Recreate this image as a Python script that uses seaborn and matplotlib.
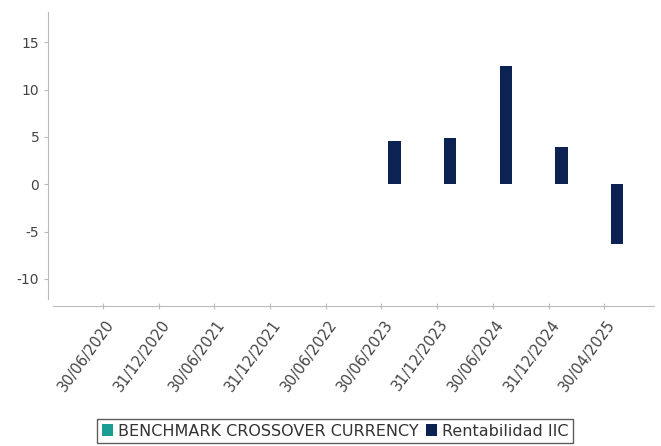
import numpy as np
import pandas as pd
import matplotlib
matplotlib.use("Agg")
import matplotlib.pyplot as plt
import matplotlib.transforms as mtransforms
from matplotlib.patches import Patch
import seaborn as sns

# Chart data
dates = ["30/06/2020", "31/12/2020", "30/06/2021", "31/12/2021", "30/06/2022",
         "30/06/2023", "31/12/2023", "30/06/2024", "31/12/2024", "30/04/2025"]
benchmark = [np.nan] * 10
rentabilidad = [np.nan, np.nan, np.nan, np.nan, np.nan, 4.55, 4.85, 12.55, 3.95, -6.35]
series_names = ["BENCHMARK CROSSOVER CURRENCY", "Rentabilidad IIC"]
colors = ["#1a9e93", "#0b2252"]
yticks = [-10, -5, 0, 5, 10, 15]

df = pd.DataFrame({
    "fecha": dates * 2,
    "serie": [series_names[0]] * 10 + [series_names[1]] * 10,
    "valor": benchmark + rentabilidad,
})

sns.set_style("white")
plt.rcParams["font.family"] = ["DejaVu Sans"]

fig = plt.figure(figsize=(6.61, 4.46), dpi=100)
ax = fig.add_axes([0.073, 0.33, 0.917, 0.643])

sns.barplot(data=df, x="fecha", y="valor", hue="serie", order=dates,
            hue_order=series_names, palette=colors, width=0.94, gap=0.53,
            errorbar=None, legend=False, ax=ax, linewidth=0, saturation=1)

ax.set_ylim(-12.1, 18.2)
ax.set_xlim(-0.98, 9.9)
ax.set_xlabel("")
ax.set_ylabel("")

for s in ["top", "right"]:
    ax.spines[s].set_visible(False)
ax.spines["left"].set_color("#bbbbbb")
ax.spines["bottom"].set_color("#bbbbbb")
ax.spines["bottom"].set_position(("outward", 5))
ax.spines["bottom"].set_bounds(-0.9, 9.9)
ax.tick_params(axis="y", length=3, color="#bbbbbb", labelcolor="#444444", labelsize=10, left=True)
ax.tick_params(axis="x", length=4, direction="inout", color="#bbbbbb", labelcolor="#444444", labelsize=10.5, bottom=True, pad=6)

ax.set_yticks(yticks)
ax.set_yticklabels([str(v) for v in yticks])
ax.set_xticks(range(len(dates)))
ax.set_xticklabels(dates, rotation=54, ha="right", rotation_mode="anchor")
shift = mtransforms.ScaledTranslation(2 / 100, 0, fig.dpi_scale_trans)
for lbl in ax.get_xticklabels():
    lbl.set_transform(lbl.get_transform() + shift)

handles = [Patch(facecolor=c, edgecolor="none", label=n) for c, n in zip(colors, series_names)]
leg = fig.legend(handles=handles, loc="lower center", bbox_to_anchor=(0.507, -0.012), ncol=2,
                 frameon=True, fancybox=False, fontsize=11.5, handlelength=0.7, handleheight=0.7,
                 handletextpad=0.3, columnspacing=0.5, borderpad=0.3, labelcolor="#333333")
leg.get_frame().set_edgecolor("#333333")
leg.get_frame().set_linewidth(1.0)

fig.savefig("out.png", dpi=100)
